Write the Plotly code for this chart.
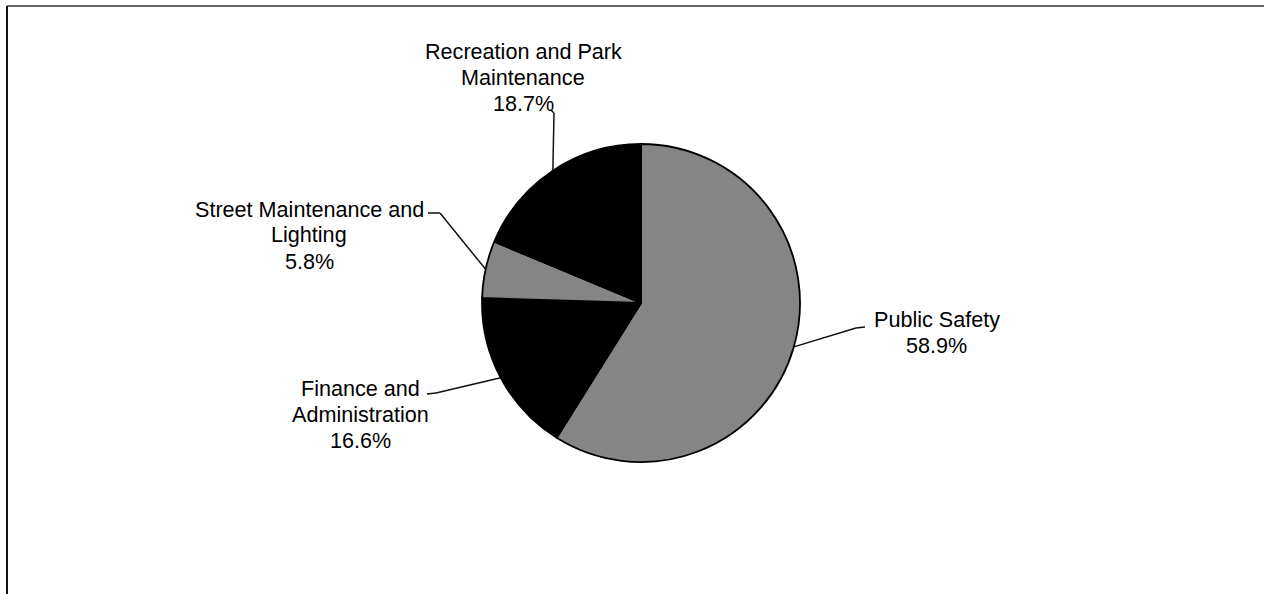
import math
import plotly.graph_objects as go

# ---- data ----
categories = ["Public Safety", "Finance and Administration",
              "Street Maintenance and Lighting", "Recreation and Park Maintenance"]
values = [58.9, 16.6, 5.8, 18.7]
label_lines = [["Public Safety"],
               ["Finance and", "Administration"],
               ["Street Maintenance and", "Lighting"],
               ["Recreation and Park", "Maintenance"]]
colors = ["#858585", "#000000", "#858585", "#000000"]

# ---- layout geometry (pixels) ----
W, H = 1264, 594
CX, CY, R = 641, 303, 159
FONT = dict(family="Liberation Sans, Arial, sans-serif", size=21.6, color="#000000")
LINE_PITCH = 26

# label block: (center x, first line cap-center y, leader outer points)
label_pos = [
    (937, 319, [(856, 328), (865, 327)]),
    (360, 388, [(436, 393), (427, 394)]),
    (309, 209, [(440, 213), (428, 213)]),
    (523, 51, [(554, 113), (551, 110)]),
]

def px2paper(x, y):
    return x / W, 1 - y / H

fig = go.Figure()
fig.add_trace(go.Pie(
    labels=categories, values=values, sort=False, direction="clockwise",
    rotation=0, textinfo="none", hoverinfo="label+percent",
    marker=dict(colors=colors, line=dict(color="#000000", width=1.8)),
    domain=dict(x=[(CX - R) / W, (CX + R) / W],
                y=[(H - CY - R) / H, (H - CY + R) / H]),
    showlegend=False,
))

total = sum(values)
cum = 0.0
annotations = []
shapes = []
for i, v in enumerate(values):
    mid = (cum + v / 2) / total * 2 * math.pi
    cum += v
    ex = CX + R * math.sin(mid)
    ey = CY - R * math.cos(mid)
    lx, ly, outer = label_pos[i]
    pts = [(ex, ey)] + outer
    for (x0, y0), (x1, y1) in zip(pts[:-1], pts[1:]):
        a0 = px2paper(x0, y0)
        a1 = px2paper(x1, y1)
        shapes.append(dict(type="line", xref="paper", yref="paper",
                           x0=a0[0], y0=a0[1], x1=a1[0], y1=a1[1],
                           line=dict(color="#111111", width=1.5)))
    lines = label_lines[i] + [f"{v:.1f}%"]
    for j, t in enumerate(lines):
        ax_, ay_ = px2paper(lx, ly + j * LINE_PITCH)
        annotations.append(dict(text=t, x=ax_, y=ay_, xref="paper", yref="paper",
                                xanchor="center", yanchor="middle",
                                showarrow=False, font=FONT))

# frame (top and left edges)
shapes.append(dict(type="line", xref="paper", yref="paper",
                   x0=7 / W, y0=1 - 6 / H, x1=1, y1=1 - 6 / H,
                   line=dict(color="#333333", width=1.5)))
shapes.append(dict(type="line", xref="paper", yref="paper",
                   x0=7 / W, y0=1 - 6 / H, x1=7 / W, y1=0,
                   line=dict(color="#111111", width=2)))

fig.update_layout(
    width=W, height=H, margin=dict(l=0, r=0, t=0, b=0),
    paper_bgcolor="white", plot_bgcolor="white",
    annotations=annotations, shapes=shapes,
)
fig.write_html("out.html")
